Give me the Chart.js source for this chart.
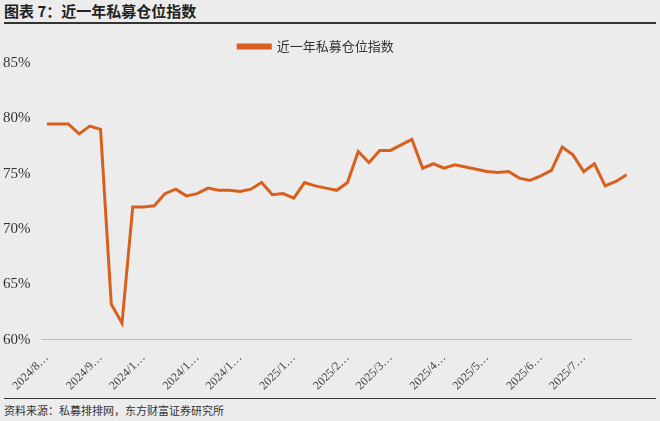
<!DOCTYPE html>
<html><head><meta charset="utf-8">
<script src="https://cdn.jsdelivr.net/npm/chart.js@4"></script>
<style>
body{margin:0;background:#ececec;width:660px;height:421px;overflow:hidden;position:relative;font-family:"Noto Sans CJK SC",sans-serif}
#title{position:absolute;left:4px;top:0;width:652px;height:22px;border-bottom:2px solid #333;font-weight:bold;font-size:15px;color:#222;line-height:22px}
#src{position:absolute;left:4px;top:398px;width:652px;border-top:1.5px solid #333;font-size:11px;color:#333;padding-top:3px}
#c{position:absolute;left:0;top:26px}
</style></head><body>
<div id="title">图表 7：近一年私募仓位指数</div>
<canvas id="c" width="632" height="370"></canvas>
<div id="src">资料来源：私募排排网，东方财富证券研究所</div>
<script>
const values = [79.5,79.5,79.5,78.6,79.3,79.0,63.2,61.5,72.0,72.0,72.1,73.2,73.6,73.0,73.2,73.7,73.5,73.5,73.4,73.6,74.2,73.1,73.2,72.8,74.2,73.9,73.7,73.5,74.2,77.0,76.0,77.1,77.1,77.6,78.1,75.5,75.9,75.5,75.8,75.6,75.4,75.2,75.1,75.2,74.6,74.4,74.8,75.3,77.4,76.7,75.2,75.9,73.9,74.3,74.9]
const monthLabels = ["2024/8…","2024/9…","2024/1…","2024/1…","2024/1…","2025/1…","2025/2…","2025/3…","2025/4…","2025/5…","2025/6…","2025/7…"]
const dates = values.map((_, i) => "w" + i)
const perMonth = values.length / 12

new Chart(document.getElementById("c"), {
  type: "line",
  data: {
    labels: dates,
    datasets: [{
      label: "近一年私募仓位指数",
      data: values,
      borderColor: "#d9601c",
      backgroundColor: "#d9601c",
      borderWidth: 3,
      pointRadius: 0,
      tension: 0
    }]
  },
  options: {
    animation: false,
    responsive: false,
    devicePixelRatio: 1,
    layout: { padding: { left: 0, right: 0, top: 4, bottom: 0 } },
    plugins: {
      legend: {
        labels: { color: "#333", font: { size: 13, family: "Noto Sans CJK SC" }, boxWidth: 32, boxHeight: 3 }
      }
    },
    scales: {
      x: {
        offset: true,
        grid: { display: false },
        border: { color: "#bbb" },
        ticks: {
          autoSkip: false,
          maxRotation: 45, minRotation: 45,
          color: "#444",
          font: { size: 12, family: "Liberation Serif" },
          callback: (v, i) => {
            const m = Math.round(i / perMonth)
            return Math.round(m * perMonth) === i && m < 12 ? monthLabels[m] : null
          }
        }
      },
      y: {
        min: 60, max: 85,
        grid: { display: false },
        border: { display: false },
        ticks: {
          stepSize: 5,
          color: "#333",
          font: { size: 15, family: "Liberation Serif" },
          callback: v => v + "%"
        }
      }
    }
  }
})
</script>
</body></html>
